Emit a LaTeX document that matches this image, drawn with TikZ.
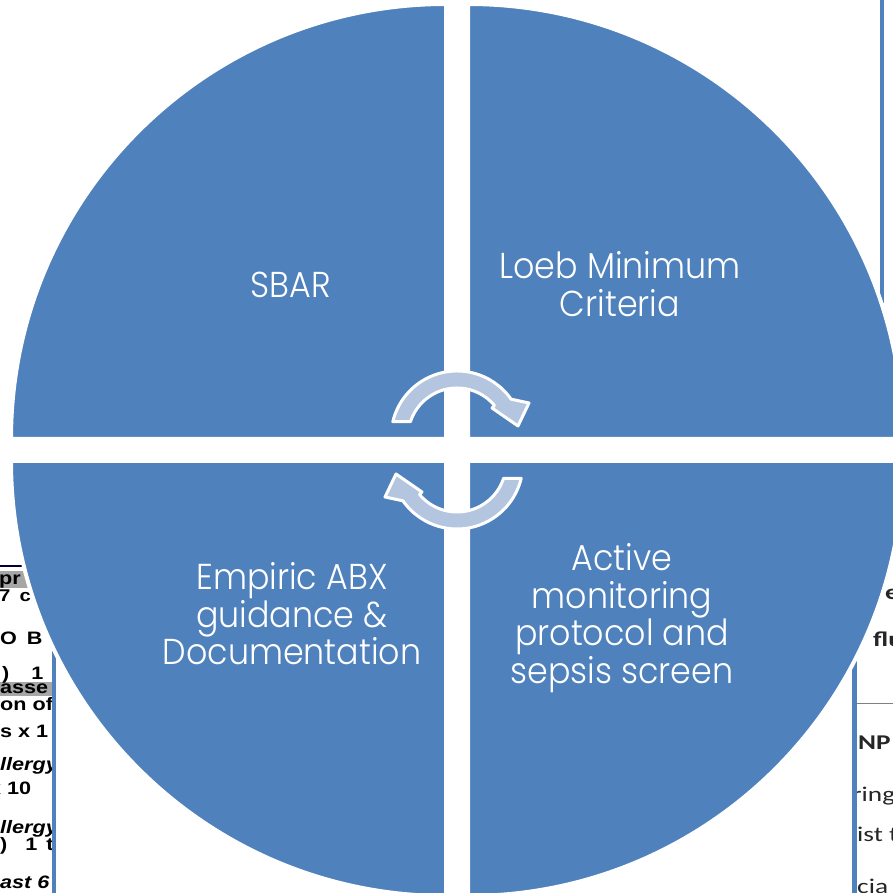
\documentclass[tikz,border=0pt]{standalone}
\usepackage{fontspec}
\setmainfont{Poppins Light}[FakeStretch=0.925]
\newfontfamily\tablefont{Liberation Sans}[FakeStretch=1.2]
\newfontfamily\sidefont{Carlito}[FakeStretch=1.3]
\definecolor{quadblue}{HTML}{4F81BD}
\definecolor{arrowfill}{HTML}{B4C5E0}
\definecolor{barfill}{HTML}{A6A6A6}
\begin{document}
\begin{tikzpicture}[x=1pt,y=1pt,
  quad/.style={fill=quadblue, draw=white, line width=4pt},
  cyc/.style={fill=arrowfill, draw=white, line width=3pt, line join=round},
  qlabel/.style={text=white, font=\fontsize{36}{37.5}\selectfont, align=center, inner sep=0pt},
  tabtext/.style={font=\tablefont\bfseries\fontsize{18}{18}\selectfont, anchor=base west, inner sep=0pt, text=black},
  tabital/.style={tabtext, font=\tablefont\bfseries\itshape\fontsize{18}{18}\selectfont},
  sidetext/.style={font=\sidefont\fontsize{21}{21}\selectfont, anchor=base west, inner sep=0pt, text=black!85},
  sidebold/.style={sidetext, font=\sidefont\bfseries\fontsize{21}{21}\selectfont},
  cyclearrow/.pic={
    \path[cyc] (166.6:66pt) arc[start angle=166.6, end angle=35, radius=66pt]
      -- (72,34) -- (61,11) -- (35,29) -- (40:49pt)
      arc[start angle=40, end angle=161.8, radius=49pt] -- cycle;
  },
]
\useasboundingbox (0,0) rectangle (893,893);
\clip (0,0) rectangle (893,893);

% table fragment on the left
\begin{scope}
  \clip (-10,-10) rectangle (52,340);
  \draw[line width=1.5pt, black!80!blue] (-5,327) -- (60,327);
  \fill[barfill] (-5,305) rectangle (60,322);
  \fill[barfill] (-5,197) rectangle (60,211);
  \node[tabtext] (t1) at (-1,308) {pr};
  \node[tabtext, font=\tablefont\bfseries\fontsize{17}{17}\selectfont] (t2) at (-1,291) {7\hspace{9pt}c};
  \node[tabtext] (t3) at (0,248) {O\hspace{10pt}B};
  \node[tabtext] (t4) at (2,213) {)\hspace{22pt}1};
  \node[tabtext] (t5) at (0,199) {asse};
  \node[tabtext] (t6) at (0,182) {on of};
  \node[tabtext] (t7) at (0,155) {s x 1};
  \node[tabital] (t8) at (0,122) {llergy};
  \node[tabtext] (t9) at (-11,98) {x 10};
  \node[tabital] (t10) at (0,59) {llergy};
  \node[tabtext] (t11) at (0,42) {)\hspace{18pt}1\hspace{9pt}t};
  \node[tabital] (t12) at (0,5) {ast 6};
\end{scope}
\fill[quadblue] (52,-5) rectangle (55.5,335);

% text fragment on the right
\begin{scope}
  \clip (857,-10) rectangle (900,330);
  \node[sidebold] (s1) at (885,293) {e};
  \node[sidebold] (s2) at (873,246) {flu};
  \draw[gray, line width=1pt] (850,189) -- (900,189);
  \node[sidebold] (s3) at (858,143) {NP};
  \node[sidetext] (s4) at (852,91) {ring};
  \node[sidetext] (s5) at (857,51) {ist t};
  \node[sidetext] (s6) at (857,-1) {cia};
\end{scope}
\fill[quadblue] (852,-5) rectangle (857,233);
\fill[quadblue] (880,590) rectangle (884,900);

% four quadrants
\path[quad] (446,454) -- (11,454) arc[start angle=180, end angle=90, radius=435pt] -- cycle;
\path[quad] (468,454) -- (468,889) arc[start angle=90, end angle=0, radius=435pt] -- cycle;
\path[quad] (446,432) -- (446,-3) arc[start angle=270, end angle=180, radius=435pt] -- cycle;
\path[quad] (468,432) -- (903,432) arc[start angle=0, end angle=-90, radius=435pt] -- cycle;

% cycle arrows in the middle
\pic at (457,456) {cyclearrow};
\pic[rotate=180] at (457,430) {cyclearrow};

% quadrant labels
\node[qlabel] (sbar) at (291,608) {SBAR};
\node[qlabel] (loeb) at (620,609) {Loeb Minimum\\Criteria};
\node[qlabel] (abx) at (292,279) {Empiric ABX\\guidance \&\\Documentation};
\node[qlabel] (active) at (622,275) {Active\\monitoring\\protocol and\\sepsis screen};
\end{tikzpicture}
\end{document}
